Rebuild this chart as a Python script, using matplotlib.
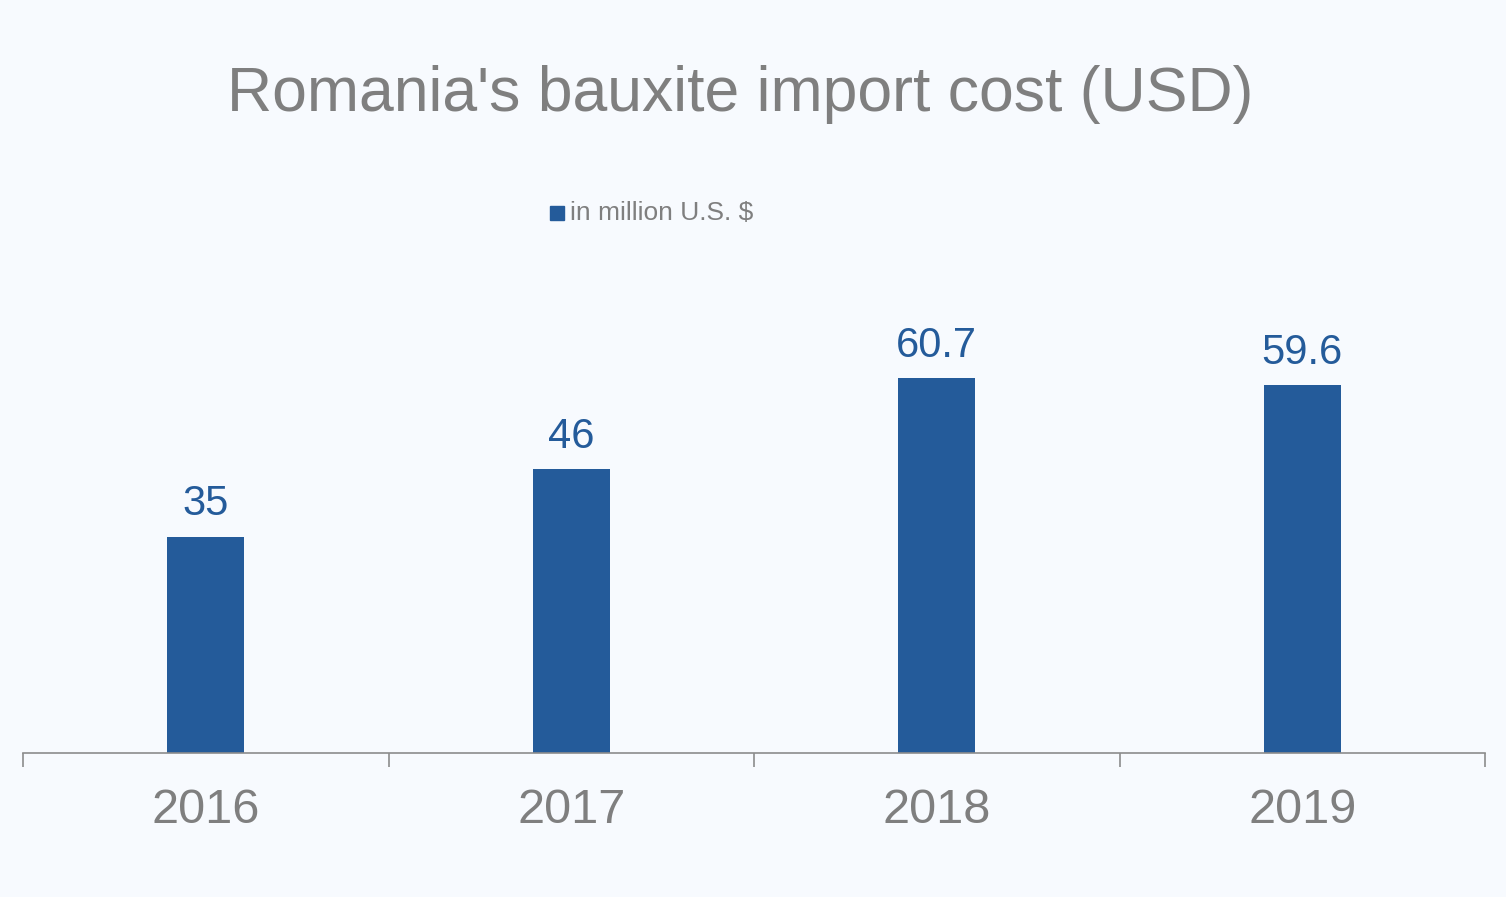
import numpy as np
import matplotlib.pyplot as plt

years = ['2016', '2017', '2018', '2019']
cost = [35, 46, 60.7, 59.6]
value_labels = ['35', '46', '60.7', '59.6']

bg = '#F7FAFE'
bar_color = '#245B9A'
grey = '#7F7F7F'

plt.rcParams['font.family'] = ['Liberation Sans', 'DejaVu Sans']

fig = plt.figure(figsize=(15.06, 8.97), dpi=100, facecolor=bg)
# axes placed in pixel terms: x 23..1485, baseline at y=753
ax = fig.add_axes([23 / 1506, (897 - 753) / 897, 1462 / 1506, 463 / 897])
ax.set_facecolor(bg)

x = np.arange(len(years))
ax.bar(x, cost, width=0.21, color=bar_color, zorder=2)
for xi, v, lab in zip(x, cost, value_labels):
    ax.annotate(lab, (xi, v), xytext=(0, 9), textcoords='offset points',
                ha='center', va='bottom', fontsize=30, color=bar_color)

ax.set_xlim(-0.5, len(years) - 0.5)
ax.set_ylim(0, 75)
ax.set_yticks([])
for s in ['top', 'right', 'left']:
    ax.spines[s].set_visible(False)
ax.spines['bottom'].set_color('#8C8C8C')
ax.spines['bottom'].set_linewidth(1.2)

ax.set_xticks(x)
ax.set_xticklabels(years, fontsize=35, color=grey)
ax.tick_params(axis='x', which='major', length=0, pad=25)
ax.set_xticks(np.arange(-0.5, len(years)), minor=True)
ax.tick_params(axis='x', which='minor', length=10, width=1.2, color='#8C8C8C', direction='out')

fig.text(740 / 1506, 1 - 95 / 897, "Romania's bauxite import cost (USD)",
         ha='center', va='center', fontsize=45, color=grey)

# legend drawn as a figure-level marker + text
fig.patches.append(plt.Rectangle((550 / 1506, 1 - 220 / 897), 14 / 1506, 14 / 897,
                                 transform=fig.transFigure, color=bar_color, figure=fig))
fig.text(570 / 1506, 1 - 213 / 897, 'in million U.S. $', ha='left', va='center',
         fontsize=19, color=grey)

fig.savefig('out.png', dpi=100, facecolor=bg)
